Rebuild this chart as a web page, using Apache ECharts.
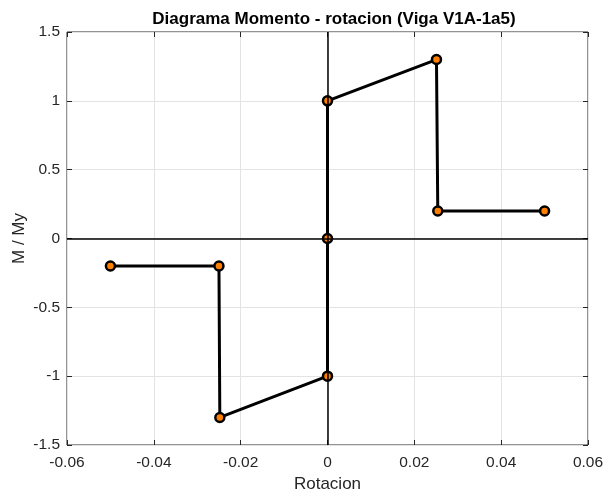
<!DOCTYPE html>
<html>
<head>
<meta charset="utf-8">
<script src="https://cdn.jsdelivr.net/npm/echarts@6/dist/echarts.min.js"></script>
<style>
  html, body { margin: 0; padding: 0; background: #fff; }
  #chart { width: 604px; height: 490px; }
</style>
</head>
<body>
<div id="chart"></div>
<script>
// datos del diagrama momento - rotacion
var rotacion = [-0.05, -0.025, -0.0248, 0, 0, 0, 0.0251, 0.0254, 0.05];
var momento  = [-0.2, -0.2, -1.3, -1, 0, 1, 1.3, 0.2, 0.2];
var xTicks = [-0.06, -0.04, -0.02, 0, 0.02, 0.04, 0.06];
var yTicks = [-1.5, -1, -0.5, 0, 0.5, 1, 1.5];

var puntos = rotacion.map(function (x, i) { return [x, momento[i]]; });

var font = 'Liberation Sans, Arial, sans-serif';
function fmt(v) { return String(+v.toFixed(3)); }

var tick = { show: true, inside: true, length: 5, lineStyle: { color: '#262626' } };
var noLine = { show: false, onZero: false };

var myChart = echarts.init(document.getElementById('chart'));
myChart.setOption({
  backgroundColor: '#fff',
  animation: false,
  title: {
    text: 'Diagrama Momento - rotacion (Viga V1A-1a5)',
    left: 329, top: 6, textAlign: 'center',
    textStyle: { fontFamily: font, fontSize: 17, fontWeight: 'bold', color: '#000' }
  },
  grid: {
    left: 67, right: 16, top: 32, bottom: 45,
    containLabel: false, outerBoundsMode: 'none',
    show: true, borderColor: '#262626', borderWidth: 1
  },
  xAxis: [{
    type: 'value',
    min: xTicks[0], max: xTicks[xTicks.length - 1], interval: 0.02,
    name: 'Rotacion', nameLocation: 'middle', nameGap: 30,
    nameTextStyle: { fontFamily: font, fontSize: 17, color: '#262626' },
    axisLine: noLine,
    axisTick: tick,
    axisLabel: { fontFamily: font, fontSize: 15.5, color: '#262626', margin: 10, formatter: fmt },
    splitLine: { show: true, lineStyle: { color: '#e3e3e3', width: 1 } }
  }, {
    type: 'value', position: 'top',
    min: xTicks[0], max: xTicks[xTicks.length - 1], interval: 0.02,
    axisLine: noLine,
    axisTick: tick,
    axisLabel: { show: false },
    splitLine: { show: false }
  }],
  yAxis: [{
    type: 'value',
    min: yTicks[0], max: yTicks[yTicks.length - 1], interval: 0.5,
    name: 'M / My', nameLocation: 'middle', nameGap: 39, nameMoveOverlap: false,
    nameTextStyle: { fontFamily: font, fontSize: 17, color: '#262626' },
    axisLine: noLine,
    axisTick: tick,
    axisLabel: { fontFamily: font, fontSize: 15.5, color: '#262626', margin: 7, formatter: fmt },
    splitLine: { show: true, lineStyle: { color: '#e3e3e3', width: 1 } }
  }, {
    type: 'value', position: 'right',
    min: yTicks[0], max: yTicks[yTicks.length - 1], interval: 0.5,
    axisLine: noLine,
    axisTick: tick,
    axisLabel: { show: false },
    splitLine: { show: false }
  }],
  series: [{
    // ejes en cero
    type: 'line', data: [], z: 1,
    markLine: {
      silent: true, symbol: 'none', label: { show: false },
      lineStyle: { color: '#000', width: 1.5, type: 'solid' },
      data: [{ xAxis: 0 }, { yAxis: 0 }]
    }
  }, {
    type: 'line', z: 3,
    data: puntos,
    lineStyle: { color: '#000', width: 3 },
    symbol: 'circle', symbolSize: 9,
    itemStyle: { color: '#ff8000', borderColor: '#000', borderWidth: 2.5 }
  }]
});
</script>
</body>
</html>
